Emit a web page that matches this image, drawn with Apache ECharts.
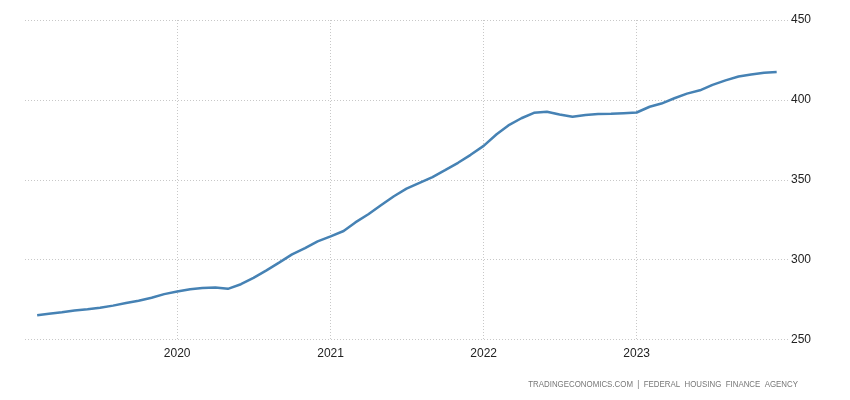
<!DOCTYPE html>
<html>
<head>
<meta charset="utf-8">
<script src="https://cdn.jsdelivr.net/npm/echarts@6/dist/echarts.min.js"></script>
<style>html,body{margin:0;padding:0;background:#fff}#c{width:850px;height:400px}</style>
</head>
<body>
<div id="c"></div>
<script>
// Monthly dates (first of month), Feb 2019 – Dec 2023
const startYear = 2019, startMonth = 2, monthCount = 59;
const dates = [];
for (let i = 0; i < monthCount; i++) {
  const m = startMonth - 1 + i;
  const y = startYear + Math.floor(m / 12);
  const mm = (m % 12) + 1;
  dates.push(y + '-' + String(mm).padStart(2, '0') + '-01');
}
const values = [
  265.2, 266.1, 267.1, 268.2, 269.0, 269.9, 271.2, 272.8, 274.3, 276.1, 278.4,
  280.0, 281.5, 282.2, 282.6, 281.7, 284.6, 288.6, 293.3, 298.3, 303.3, 307.2, 311.4,
  314.6, 317.9, 323.3, 328.4, 334.0, 339.7, 344.4, 348.0, 351.7, 356.0, 360.6, 365.6,
  371.2, 378.5, 384.0, 388.5, 391.9, 392.6, 390.8, 389.5, 390.6, 391.1, 391.3, 391.7,
  392.1, 395.7, 397.7, 401.0, 403.9, 406.0, 409.4, 412.2, 414.6, 415.9, 417.0, 417.5
];
const yTicks = { min: 250, max: 450, step: 50 };
const xRange = { min: '2019-01-03', max: '2023-12-28' };
const sourceText = 'TRADINGECONOMICS.COM  |  FEDERAL  HOUSING  FINANCE  AGENCY';

const chart = echarts.init(document.getElementById('c'), null, { renderer: 'canvas' });
const gridStyle = { show: true, showMinLine: false, showMaxLine: false, lineStyle: { color: '#c8c8c8', type: [1, 2], width: 1 } };
chart.setOption({
  animation: false,
  backgroundColor: '#ffffff',
  grid: { left: 25, right: 62, top: 20, bottom: 60.5, containLabel: false },
  xAxis: {
    type: 'time',
    min: xRange.min,
    max: xRange.max,
    minInterval: 365 * 86400000,
    maxInterval: 366 * 86400000,
    axisLine: { show: false },
    axisTick: { show: false },
    splitLine: gridStyle,
    axisLabel: {
      formatter: '{yyyy}',
      color: '#222',
      fontSize: 12,
      fontFamily: 'Liberation Sans, Arial, sans-serif',
      margin: 8,
      showMinLabel: false,
      showMaxLabel: false,
      hideOverlap: false
    }
  },
  yAxis: {
    type: 'value',
    position: 'right',
    min: yTicks.min,
    max: yTicks.max,
    interval: yTicks.step,
    axisLine: { show: false },
    axisTick: { show: false },
    splitLine: { show: true, lineStyle: { color: '#c8c8c8', type: [1, 2], width: 1 } },
    axisLabel: {
      color: '#222',
      fontSize: 12,
      fontFamily: 'Liberation Sans, Arial, sans-serif',
      margin: 3
    }
  },
  series: [{
    type: 'line',
    data: dates.map((d, i) => [d, values[i]]),
    showSymbol: false,
    symbol: 'none',
    lineStyle: { color: '#4682b4', width: 2.5 },
    smooth: false
  }],
  graphic: [{
    type: 'text',
    x: 798,
    y: 384,
    scaleX: 0.83,
    style: {
      text: sourceText,
      fill: '#777',
      align: 'right',
      verticalAlign: 'middle',
      font: '9.5px "Liberation Sans", Arial, sans-serif'
    }
  }]
});
</script>
</body>
</html>
